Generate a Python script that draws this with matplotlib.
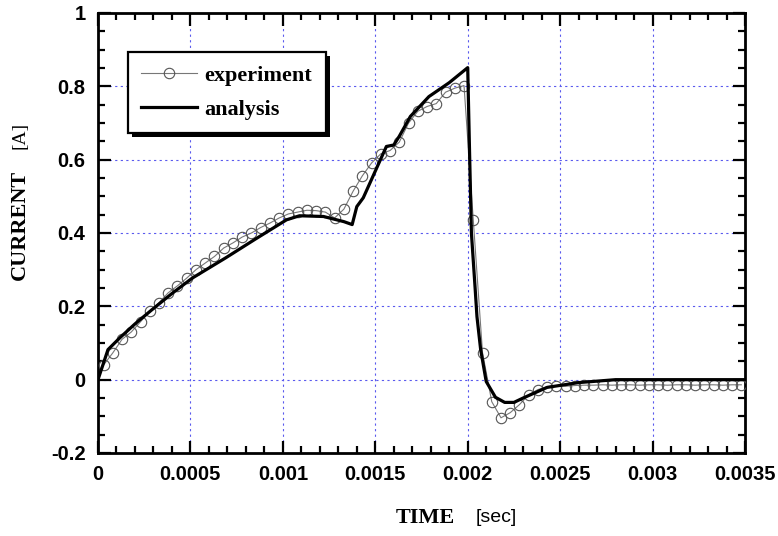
import numpy as np
import matplotlib
matplotlib.use("Agg")
from matplotlib import pyplot as plt
from matplotlib.ticker import MultipleLocator
from matplotlib import patheffects as pe

# experiment samples (every 50 us, starting at 30 us)
exp_t0 = 0.00003
exp_dt = 0.00005
exp_i = [0.04, 0.073, 0.11, 0.13, 0.158, 0.186, 0.21, 0.237, 0.256, 0.277,
         0.30, 0.318, 0.336, 0.359, 0.373, 0.389, 0.40, 0.415, 0.427, 0.441,
         0.452, 0.457, 0.462, 0.461, 0.457, 0.441, 0.465, 0.514, 0.556, 0.591,
         0.616, 0.625, 0.648, 0.70, 0.732, 0.745, 0.753, 0.784, 0.795, 0.802,
         0.436, 0.074, -0.06, -0.104, -0.09, -0.068, -0.041, -0.027, -0.019, -0.016,
         -0.018, -0.016, -0.015, -0.015, -0.014, -0.015, -0.014, -0.014, -0.015, -0.014,
         -0.014, -0.015, -0.014, -0.014, -0.015, -0.014, -0.014, -0.015, -0.014, -0.014]
exp_t = exp_t0 + exp_dt * np.arange(len(exp_i))

# analysis curve
ana_t = [0, 0.000054, 0.00012, 0.0002, 0.00029, 0.0004, 0.00051, 0.00069, 0.00085,
         0.00102, 0.00109, 0.00122, 0.00133, 0.001375, 0.0014, 0.001435, 0.00156,
         0.0016, 0.00163, 0.00169, 0.00179, 0.0019, 0.002, 0.00201, 0.00202,
         0.00204, 0.00205, 0.00207, 0.0021, 0.00215, 0.0022, 0.00225, 0.0023,
         0.00243, 0.0026, 0.0028, 0.0035]
ana_i = [0, 0.082, 0.115, 0.152, 0.19, 0.235, 0.277, 0.332, 0.383,
         0.436, 0.447, 0.445, 0.431, 0.423, 0.472, 0.496, 0.636,
         0.64, 0.664, 0.718, 0.772, 0.81, 0.851, 0.62, 0.40,
         0.25, 0.172, 0.082, -0.005, -0.048, -0.062, -0.062, -0.05,
         -0.021, -0.008, 0.0, 0.0]

xticks = [0, 0.0005, 0.001, 0.0015, 0.002, 0.0025, 0.003, 0.0035]
xlabels = ['0', '0.0005', '0.001', '0.0015', '0.002', '0.0025', '0.003', '0.0035']
yticks = [-0.2, 0, 0.2, 0.4, 0.6, 0.8, 1]
ylabels = ['-0.2', '0', '0.2', '0.4', '0.6', '0.8', '1']

W, H = 778, 536
fig = plt.figure(figsize=(W / 100, H / 100), dpi=100)
ax = fig.add_axes([98 / W, 1 - 453 / H, (745 - 98) / W, (453 - 13) / H])

ax.plot(exp_t, exp_i, color='#777777', lw=0.8, marker='o', ms=7.5,
        mfc='none', mec='#555555', mew=0.8, label='experiment', zorder=3)
ax.plot(ana_t, ana_i, color='black', lw=2.3, label='analysis', zorder=4)

ax.set_xlim(0, 0.0035)
ax.set_ylim(-0.2, 1)
ax.set_xticks(xticks)
ax.set_xticklabels(xlabels)
ax.set_yticks(yticks)
ax.set_yticklabels(ylabels)
ax.xaxis.set_minor_locator(MultipleLocator(0.0001))
ax.yaxis.set_minor_locator(MultipleLocator(0.05))
ax.tick_params(which='both', direction='in', top=True, right=True, width=1.6)
ax.tick_params(which='major', length=9, pad=9)
ax.tick_params(which='minor', length=5)
for lab in ax.get_xticklabels() + ax.get_yticklabels():
    lab.set_fontfamily('Liberation Sans')
    lab.set_fontweight('bold')
    lab.set_fontsize(14.5)
for sp in ax.spines.values():
    sp.set_linewidth(2)

ax.grid(True, which='major', color='#5a5aee', lw=0.8, linestyle=(0, (2, 3)))

leg = ax.legend(loc='upper left', bbox_to_anchor=(128 / W, 1 - 52 / H),
                bbox_transform=fig.transFigure, borderaxespad=0,
                fancybox=False, shadow=False,
                prop={'family': 'Liberation Serif', 'weight': 'bold', 'size': 16},
                handlelength=2.5, handletextpad=0.35, borderpad=0.6,
                labelspacing=0.6, framealpha=1)
frame = leg.get_frame()
frame.set_edgecolor('black')
frame.set_linewidth(1.6)
frame.set_path_effects([pe.SimplePatchShadow(offset=(3, -3), shadow_rgbFace='black', alpha=1),
                        pe.Normal()])

fig.text(20 / W, 1 - 225 / H, 'CURRENT', rotation=90, ha='center', va='center',
         family='Liberation Serif', weight='bold', fontsize=16)
fig.text(20 / W, 1 - 135 / H, '[A]', rotation=90, ha='center', va='center',
         family='Liberation Serif', fontsize=14)
fig.text(425 / W, 1 - 518 / H, 'TIME', ha='center', va='center',
         family='Liberation Serif', weight='bold', fontsize=16)
fig.text(496 / W, 1 - 518 / H, '[sec]', ha='center', va='center',
         family='Liberation Sans', fontsize=14)

fig.savefig('out.png', dpi=100)
